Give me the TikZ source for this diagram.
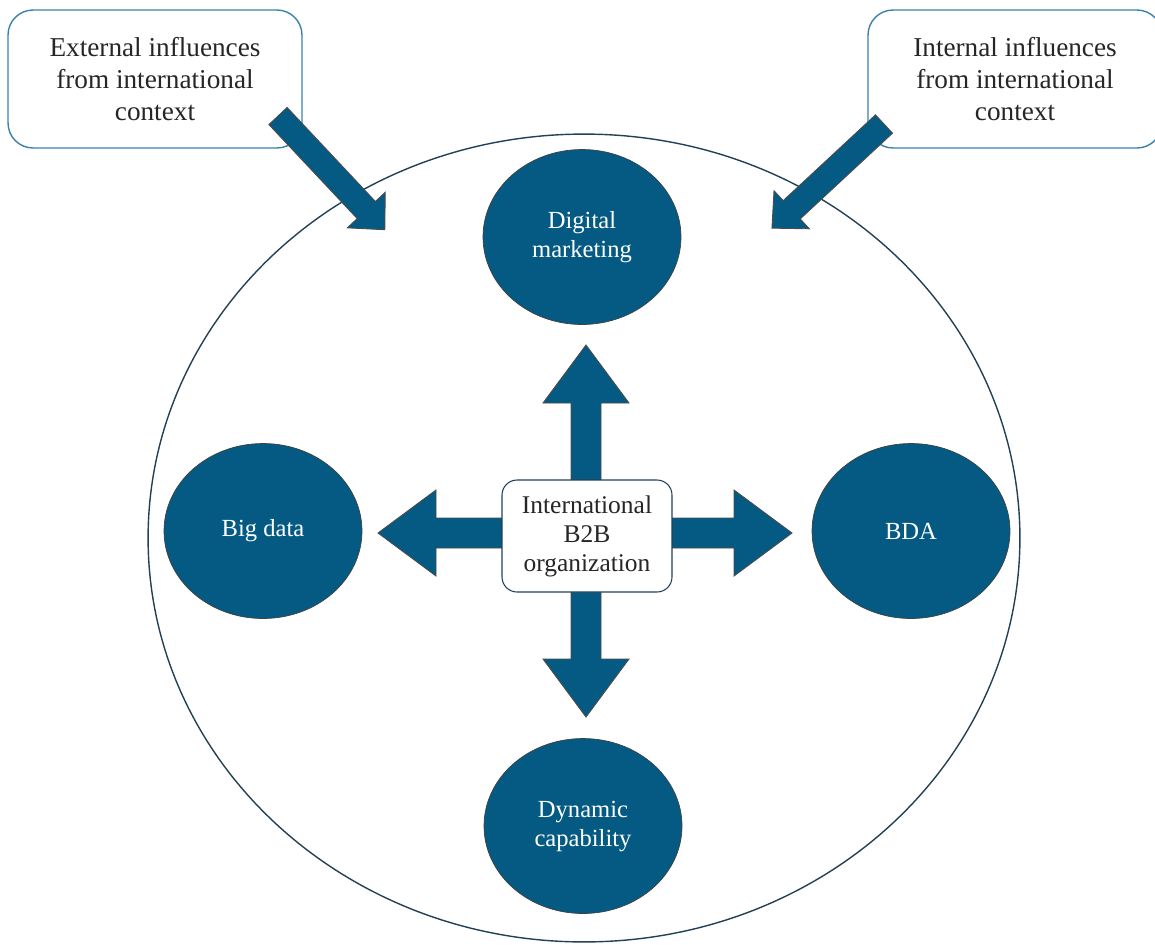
\documentclass[tikz,border=0pt]{standalone}
\usepackage{fontspec}
\setmainfont{Liberation Serif}
\usetikzlibrary{shapes.geometric}

\definecolor{oceanblue}{RGB}{4,90,130}
\definecolor{boxline}{RGB}{58,130,170}
\definecolor{ringline}{RGB}{35,65,85}

\tikzset{
  concept/.style={ellipse, draw=black!75, fill=oceanblue, text=white, minimum width=3.96cm, minimum height=3.5cm,
    align=center, inner sep=0pt, font=\fontsize{14}{16.5}\selectfont},
  influence/.style={draw=boxline, line width=0.8pt, rounded corners=0.5cm, fill=white, minimum width=5.88cm,
    minimum height=2.76cm, align=center, text=black!85, font=\fontsize{15.5}{18}\selectfont},
  orgbox/.style={draw=ringline, line width=0.6pt, rounded corners=0.3cm, fill=white, minimum width=3.4cm,
    minimum height=2.24cm, align=center, text=black!85, font=\fontsize{14.5}{16.5}\selectfont},
  blockfill/.style={fill=oceanblue, draw=black!70, line width=0.5pt, line join=miter}
}

% start, angle, length, shaft half width, head half width, head length
\newcommand{\blockarrow}[6]{%
  \begin{scope}[shift={(#1)}, rotate=#2]
    \filldraw[blockfill] (0,-#4) -- ({#3-#6},-#4) -- ({#3-#6},-#5) -- (#3,0)
      -- ({#3-#6},#5) -- ({#3-#6},#4) -- (0,#4) -- cycle;
  \end{scope}}

\begin{document}
\begin{tikzpicture}[x=0.02cm, y=-0.02cm]
    \useasboundingbox (0,0) rectangle (1155,944);
    \clip (0,0) rectangle (1155,944);

    \node[ellipse, draw=ringline, line width=0.8pt, minimum width=17.44cm, minimum height=16.16cm] (firm) at (584,538) {};

    \node[influence] (ext) at (155,79) {External influences\\from international\\context};
    \node[influence] (int) at (1015,79) {Internal influences\\from international\\context};

    \coordinate (extTail) at (278,116);
    \coordinate (intTail) at (884,124);
    \blockarrow{extTail}{-46.8}{156}{12.5}{26}{27}
    \blockarrow{intTail}{222.9}{153}{12.5}{26}{27}

    \node[concept] (dm) at (582,237) {Digital\\marketing};
    \node[concept] (bd) at (263,531) {Big data};
    \node[concept] (bda) at (911,531) {BDA};
    \node[concept] (dc) at (583,826) {Dynamic\\capability};

    % cross of arrows from the centre, box on top
    \coordinate (hub) at (586,533);
    \foreach \r/\l in {90/188, -90/184, 180/208, 0/206} {
        \blockarrow{hub}{\r}{\l}{15}{43}{58}
    }
    \node[orgbox] (org) at (587,536) {International\\B2B\\organization};
\end{tikzpicture}
\end{document}
